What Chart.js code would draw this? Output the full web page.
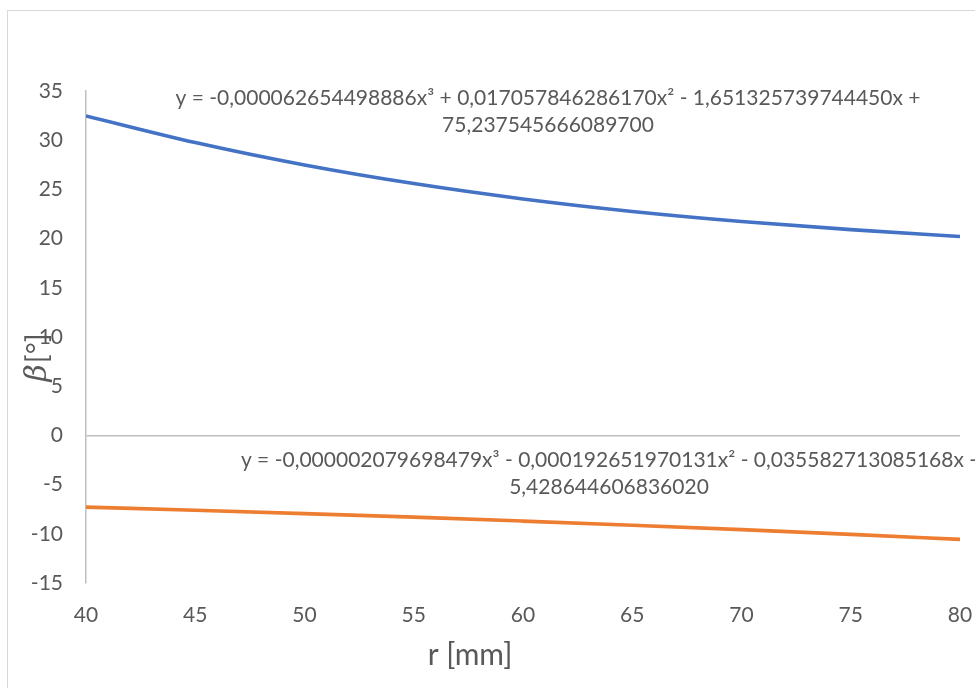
<!DOCTYPE html>
<html>
<head>
<meta charset="utf-8">
<script src="https://cdn.jsdelivr.net/npm/chart.js@4/dist/chart.umd.min.js"></script>
<style>
  html, body { margin: 0; padding: 0; background: #fff; }
  #wrap { width: 975px; height: 688px; position: relative; }
</style>
</head>
<body>
<div id="wrap"><canvas id="c" width="975" height="688"></canvas></div>
<script>
// radius r [mm] and blade angle β [°] along the two fitted curves
const radius = [40, 45, 50, 55, 60, 65, 70, 75, 80];
const betaUpper = [32.47, 29.76, 27.48, 25.59, 24.03, 22.76, 21.74, 20.91, 20.22];
const betaLower = [-7.29, -7.61, -7.95, -8.31, -8.71, -9.13, -9.58, -10.06, -10.57];

const xTicks = [40, 45, 50, 55, 60, 65, 70, 75, 80];
const yTicks = [-15, -10, -5, 0, 5, 10, 15, 20, 25, 30, 35];

const eqUpper = [
  'y = -0,000062654498886x³ + 0,017057846286170x² - 1,651325739744450x +',
  '75,237545666089700'
];
const eqLower = [
  'y = -0,000002079698479x³ - 0,000192651970131x² - 0,035582713085168x -',
  '5,428644606836020'
];

const FONT = 'Lato, "Open Sans", sans-serif';
const TEXT = '#595959';
const AXIS = '#bfbfbf';

const toPoints = ys => radius.map((r, i) => ({ x: r, y: ys[i] }));

// frame around the whole chart, equations and axis titles
const decor = {
  id: 'decor',
  beforeDraw(chart) {
    const ctx = chart.ctx;
    ctx.save();
    ctx.strokeStyle = '#d9d9d9';
    ctx.lineWidth = 1;
    ctx.strokeRect(7.5, 10.5, 1100, 1100);
    ctx.restore();
  },
  afterDraw(chart) {
    const ctx = chart.ctx;
    ctx.save();
    ctx.fillStyle = TEXT;
    ctx.textAlign = 'center';
    ctx.textBaseline = 'middle';
    ctx.font = '21px ' + FONT;
    ctx.fillText(eqUpper[0], 548, 98);
    ctx.fillText(eqUpper[1], 548, 125);
    ctx.fillText(eqLower[0], 609, 460);
    ctx.fillText(eqLower[1], 609, 487);

    // x axis title
    ctx.font = '30px ' + FONT;
    ctx.fillText('r [mm]', 470, 655);

    // y axis title, rotated
    ctx.translate(38, 358);
    ctx.rotate(-Math.PI / 2);
    ctx.textAlign = 'left';
    const bFont = 'italic 30px "DejaVu Serif", serif';
    const rFont = '29px ' + FONT;
    ctx.font = bFont;
    const b = ctx.measureText('β').width;
    ctx.font = rFont;
    const rest = ctx.measureText('[°]').width;
    const start = -(b + rest) / 2;
    ctx.font = bFont;
    ctx.fillText('β', start, 0);
    ctx.font = rFont;
    ctx.fillText('[°]', start + b + 1, 0);
    ctx.restore();
  }
};

new Chart(document.getElementById('c'), {
  type: 'line',
  data: {
    datasets: [
      {
        data: toPoints(betaUpper),
        borderColor: '#4472C4',
        borderWidth: 3.6,
        pointRadius: 0,
        cubicInterpolationMode: 'monotone',
        fill: false
      },
      {
        data: toPoints(betaLower),
        borderColor: '#ED7D31',
        borderWidth: 3.6,
        pointRadius: 0,
        cubicInterpolationMode: 'monotone',
        fill: false
      }
    ]
  },
  options: {
    responsive: false,
    animation: false,
    layout: { padding: { left: 0, top: 91, right: 15, bottom: 0 } },
    plugins: { legend: { display: false }, tooltip: { enabled: false } },
    scales: {
      x: {
        type: 'linear',
        min: 40, max: 80,
        afterBuildTicks: s => { s.ticks = xTicks.map(v => ({ value: v })); },
        afterFit: s => { s.height = 105; s.paddingLeft = 0; s.paddingRight = 0; },
        border: { display: false },
        grid: { display: false, drawTicks: false },
        ticks: { color: TEXT, font: { family: FONT, size: 21 }, padding: 20, maxRotation: 0 }
      },
      y: {
        min: -15, max: 35,
        afterBuildTicks: s => { s.ticks = yTicks.map(v => ({ value: v })); },
        afterFit: s => { s.width = 86; s.paddingTop = 0; s.paddingBottom = 0; },
        border: { display: true, color: AXIS, width: 1.5 },
        grid: {
          drawTicks: false,
          color: c => (c.tick && c.tick.value === 0 ? AXIS : 'rgba(0,0,0,0)'),
          lineWidth: 1.5
        },
        ticks: { color: TEXT, font: { family: FONT, size: 21 }, padding: 23 }
      }
    }
  },
  plugins: [decor]
});
</script>
</body>
</html>
